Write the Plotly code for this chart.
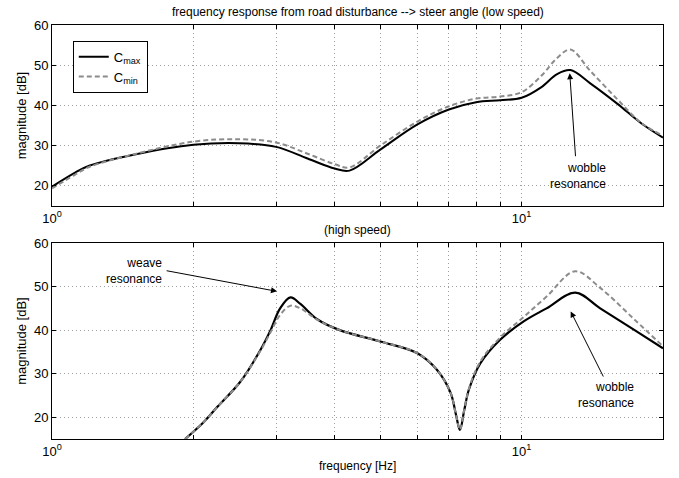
import math
import plotly.graph_objects as go
from plotly.subplots import make_subplots

# ---- data ----
f_top = [1.0, 1.12, 1.2, 1.5, 2.0, 2.5, 3.0, 3.5, 4.0, 4.3, 5.0, 6.0, 7.0, 8.0, 9.0, 10.0, 11.0, 11.9, 12.7, 14.0, 16.0, 18.0, 20.0]
cmax_top = [19.8, 23.3, 25.0, 27.8, 30.2, 30.6, 29.7, 26.8, 24.3, 23.8, 29.0, 35.3, 39.0, 40.8, 41.3, 41.9, 44.5, 47.8, 48.8, 45.5, 40.4, 35.5, 32.0]
cmin_top = [19.4, 22.8, 24.7, 27.9, 31.0, 31.6, 30.8, 28.0, 25.4, 24.6, 30.0, 36.0, 39.8, 41.7, 42.2, 43.3, 47.3, 51.8, 53.9, 48.6, 41.5, 35.6, 32.5]

f_bot = [1.92, 2.1, 2.25, 2.52, 2.78, 2.92, 3.06, 3.22, 3.38, 3.67, 4.1, 5.0, 6.0, 6.6, 7.06, 7.25, 7.39, 7.55, 7.72, 8.17, 9.0, 10.1, 11.3, 13.0, 14.7, 17.4, 20.0]
cmax_bot = [15.0, 18.8, 22.4, 28.2, 35.5, 40.0, 45.0, 47.5, 46.0, 42.5, 40.0, 37.4, 34.7, 30.9, 25.6, 20.5, 17.1, 21.7, 26.3, 32.4, 37.8, 42.0, 45.0, 48.6, 45.0, 40.0, 35.8]
cmin_bot = [15.0, 18.8, 22.4, 28.2, 35.3, 39.5, 43.5, 45.6, 45.0, 42.4, 40.0, 37.4, 34.7, 30.9, 25.6, 20.5, 17.1, 21.7, 26.5, 32.8, 38.3, 43.0, 47.7, 53.5, 49.7, 42.4, 36.3]

x_tickvals = [1, 2, 3, 4, 5, 6, 7, 8, 9, 10, 20]
x_ticktext = ["10<sup>0</sup>", "", "", "", "", "", "", "", "", "10<sup>1</sup>", ""]
y_tickvals = [20, 30, 40, 50, 60]

FONT = "Liberation Sans, Arial, sans-serif"
GREY = "#8c8c8c"

fig = make_subplots(rows=2, cols=1, vertical_spacing=0.09)

fig.add_trace(go.Scatter(x=f_top, y=cmax_top, mode="lines", name="C<sub>max</sub>",
                         line=dict(color="black", width=2, shape="spline")), row=1, col=1)
fig.add_trace(go.Scatter(x=f_top, y=cmin_top, mode="lines", name="C<sub>min</sub>",
                         line=dict(color=GREY, width=2, dash="5px,3px", shape="spline")), row=1, col=1)
fig.add_trace(go.Scatter(x=f_bot, y=cmax_bot, mode="lines", showlegend=False,
                         line=dict(color="black", width=2.2, shape="spline")), row=2, col=1)
fig.add_trace(go.Scatter(x=f_bot, y=cmin_bot, mode="lines", showlegend=False,
                         line=dict(color=GREY, width=2, dash="5px,3px", shape="spline")), row=2, col=1)

axis_common = dict(showline=True, linecolor="black", linewidth=1, mirror="ticks",
                   ticks="inside", ticklen=4, tickcolor="black",
                   showgrid=True, gridcolor="#a0a0a0", griddash="1px,3px", gridwidth=1,
                   zeroline=False, tickfont=dict(family=FONT, size=13, color="black"))

for r in (1, 2):
    fig.update_xaxes(type="log", range=[0, math.log10(20)], tickvals=x_tickvals,
                     ticktext=x_ticktext, row=r, col=1, **axis_common)
    fig.update_yaxes(range=[15, 60], tickvals=y_tickvals, row=r, col=1,
                     title=dict(text="magnitude [dB]", font=dict(family=FONT, size=13, color="black"), standoff=4),
                     **axis_common)

fig.update_layout(
    width=679, height=478,
    margin=dict(l=52, r=16, t=25, b=39),
    paper_bgcolor="white", plot_bgcolor="white",
    font=dict(family=FONT, size=12, color="black"),
    legend=dict(x=0.034, y=0.962, xanchor="left", yanchor="top",
                bordercolor="black", borderwidth=1, bgcolor="white",
                font=dict(family=FONT, size=13, color="black"),
                tracegroupgap=0),
    showlegend=True,
)
fig.update_layout(yaxis=dict(domain=[0.5628, 1.0]), yaxis2=dict(domain=[0.0, 0.4734]))

anns = [
    dict(text="frequency response from road disturbance --> steer angle (low speed)",
         xref="paper", yref="paper", x=0.5, y=1.0, yshift=4, xanchor="center", yanchor="bottom",
         showarrow=False, font=dict(size=12)),
    dict(text="(high speed)", xref="paper", yref="paper", x=0.5, y=0.4734, yshift=4,
         xanchor="center", yanchor="bottom", showarrow=False, font=dict(size=12)),
    dict(text="frequency [Hz]", xref="paper", yref="paper", x=0.5, y=0, yshift=-27,
         xanchor="center", yanchor="middle", showarrow=False, font=dict(size=12)),
    # top wobble
    dict(text="wobble<br>resonance", xref="x", yref="y", x=1.1834, y=22.5, xanchor="right",
         yanchor="middle", align="right", showarrow=False, font=dict(size=12)),
    dict(text="", xref="x", yref="y", x=math.log10(12.66), y=48.0, axref="x", ayref="y",
         ax=math.log10(13.03), ay=27.0, showarrow=True, arrowhead=2, arrowsize=1.2,
         arrowwidth=1, arrowcolor="black"),
    # bottom weave
    dict(text="weave<br>resonance", xref="x2", yref="y2", x=0.2377, y=53.6, xanchor="right",
         yanchor="middle", align="right", showarrow=False, font=dict(size=12)),
    dict(text="", xref="x2", yref="y2", x=0.4791, y=48.9, axref="x2", ayref="y2",
         ax=0.2409, ay=53.7, showarrow=True, arrowhead=2, arrowsize=1.2,
         arrowwidth=1, arrowcolor="black"),
    # bottom wobble
    dict(text="wobble<br>resonance", xref="x2", yref="y2", x=1.2431, y=25.0, xanchor="right",
         yanchor="middle", align="right", showarrow=False, font=dict(size=12)),
    dict(text="", xref="x2", yref="y2", x=1.1045, y=44.3, axref="x2", ayref="y2",
         ax=1.1755, ay=29.0, showarrow=True, arrowhead=2, arrowsize=1.2,
         arrowwidth=1, arrowcolor="black"),
]
for a in anns:
    fig.add_annotation(**a)

fig.write_html("out.html", config={"displayModeBar": False},
               post_script="document.body.style.margin='0';document.body.style.overflow='hidden';")
